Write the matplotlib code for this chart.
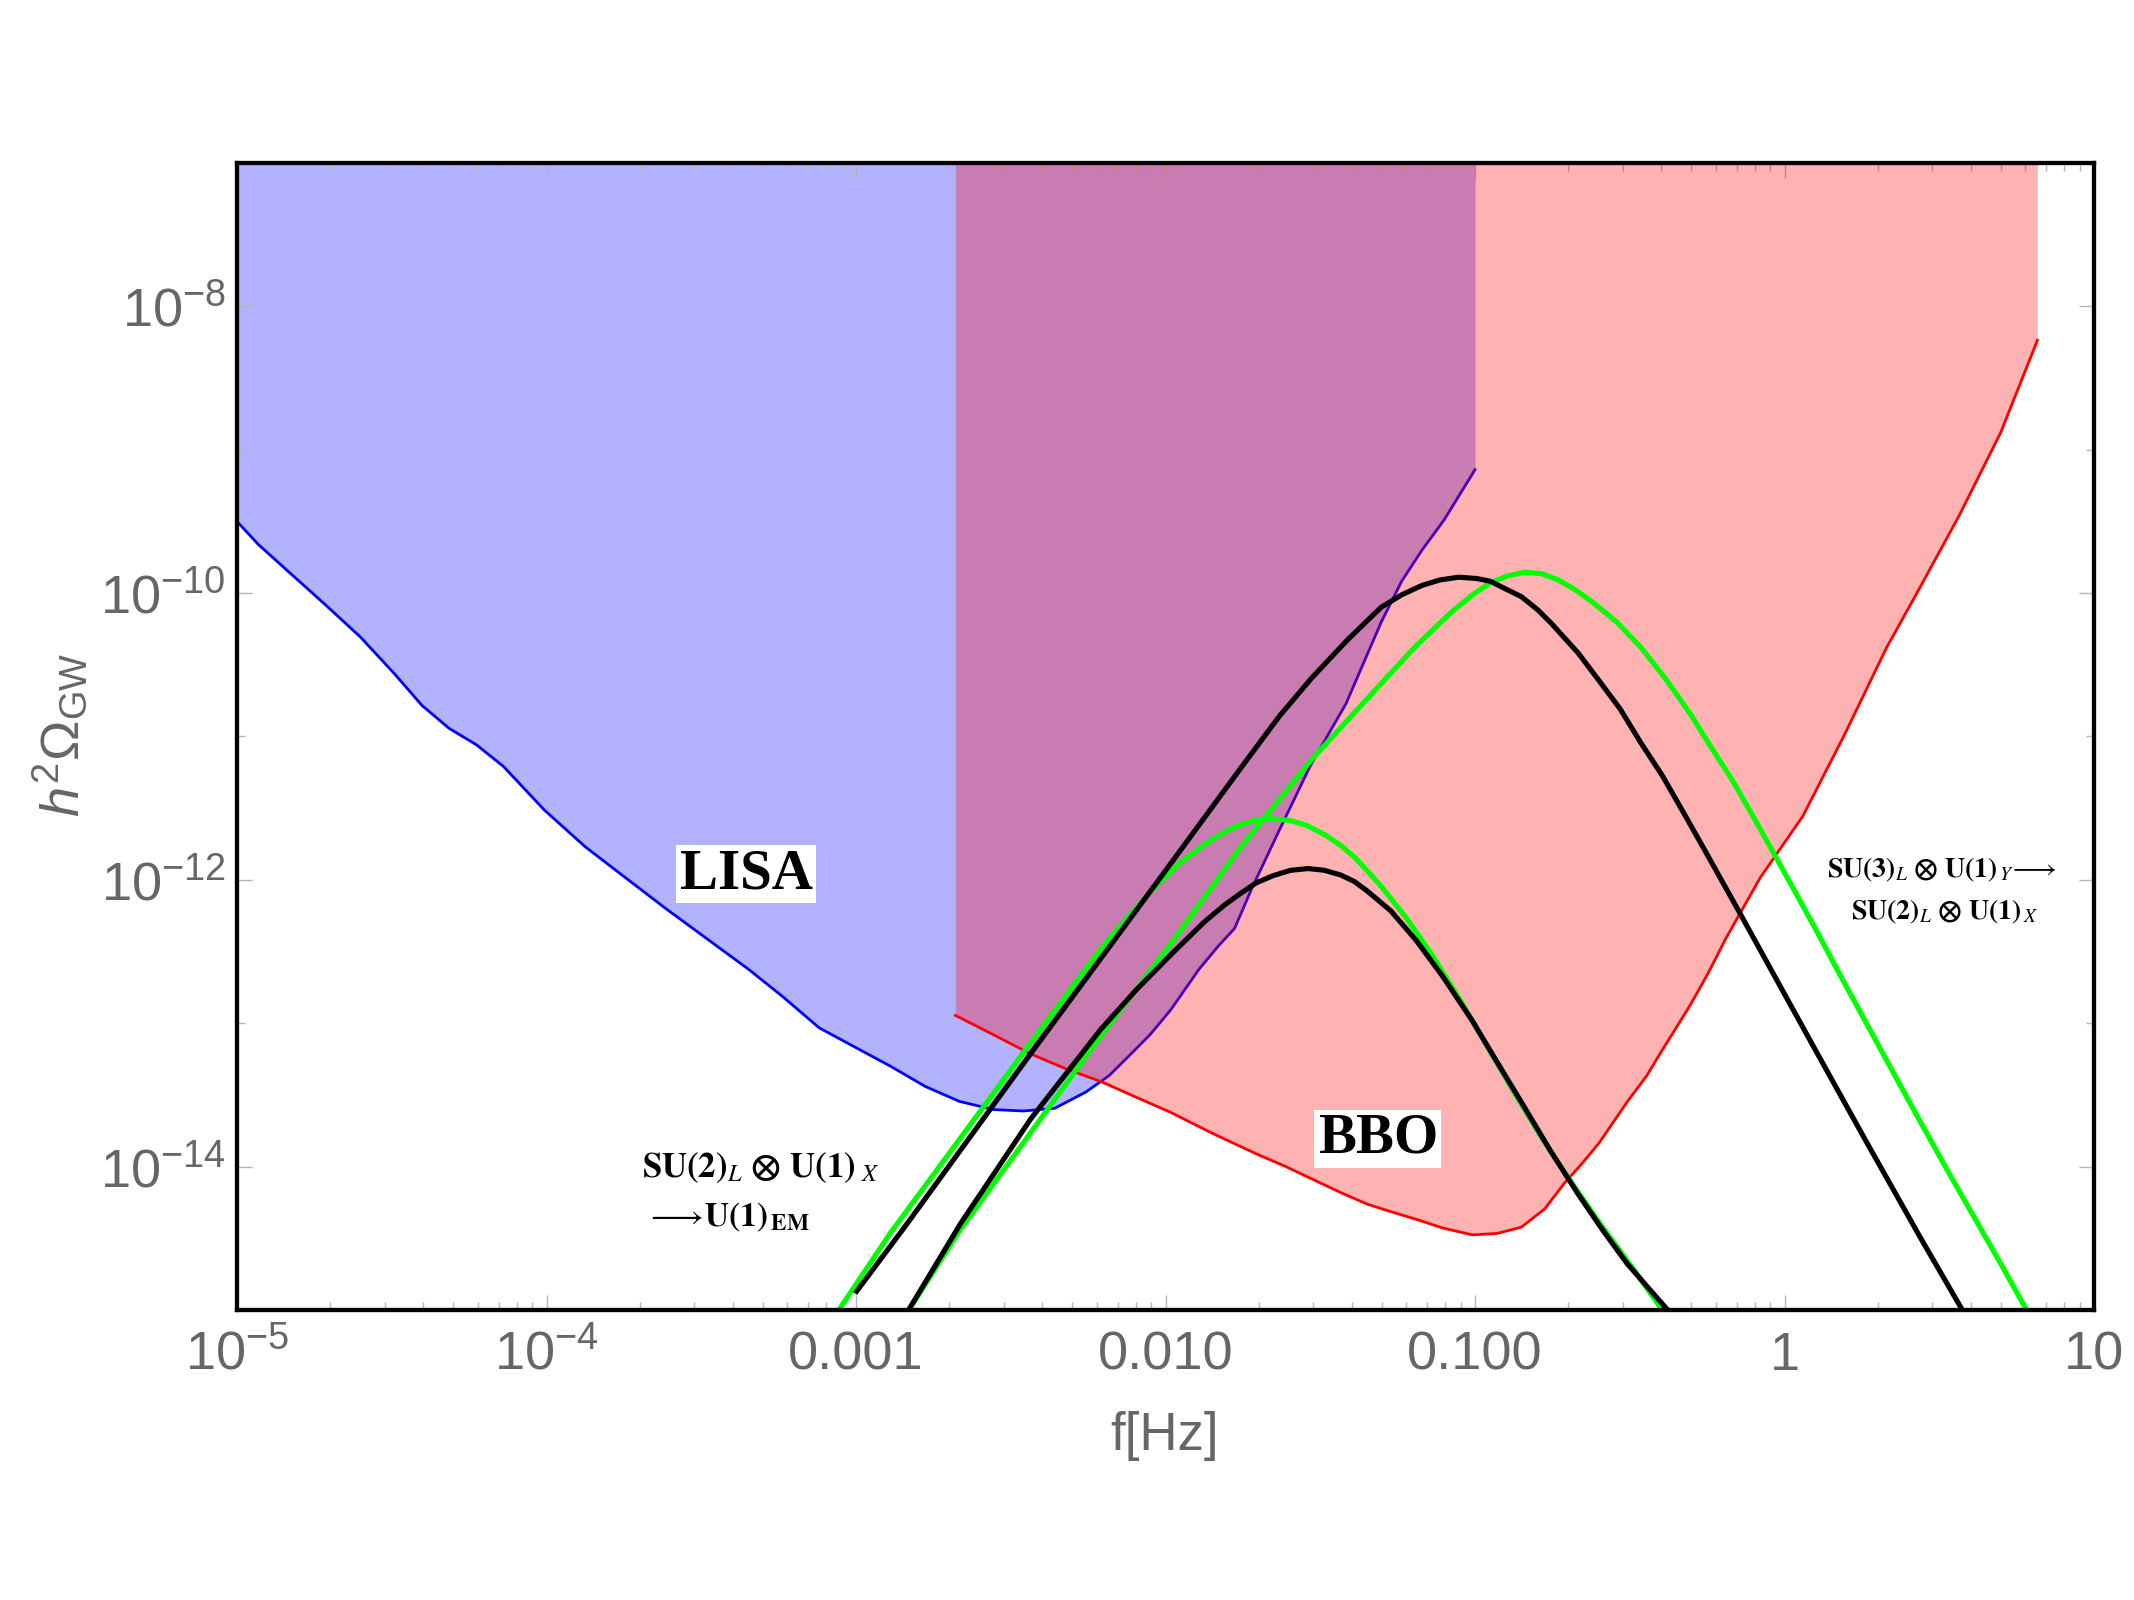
import numpy as np
import matplotlib
matplotlib.use("Agg")
import matplotlib.pyplot as plt
from matplotlib.ticker import FixedLocator, FixedFormatter, NullFormatter

plt.rcParams['font.family'] = ['Liberation Sans', 'DejaVu Sans']
plt.rcParams['mathtext.fontset'] = 'custom'
plt.rcParams['mathtext.rm'] = 'Liberation Sans'
plt.rcParams['mathtext.it'] = 'Liberation Sans:italic'
plt.rcParams['mathtext.bf'] = 'Liberation Sans:bold'
plt.rcParams['mathtext.sf'] = 'Liberation Sans'

# ---------------- data (log10 values) ----------------
lisa_logf = [-5.000, -4.931, -4.843, -4.711, -4.601, -4.491, -4.403, -4.315, -4.227, -4.139,
             -4.007, -3.875, -3.743, -3.611, -3.479, -3.347, -3.237, -3.119, -2.996, -2.890,
             -2.776, -2.666, -2.556, -2.459, -2.358, -2.257, -2.182, -2.120, -2.050, -1.984,
             -1.892, -1.830, -1.777, -1.720, -1.641, -1.531, -1.417, -1.303, -1.237, -1.171,
             -1.100, -1.000]
lisa_logO = [-9.500, -9.661, -9.832, -10.088, -10.307, -10.563, -10.782, -10.943, -11.057, -11.209,
             -11.513, -11.769, -11.988, -12.206, -12.415, -12.624, -12.814, -13.032, -13.175, -13.298,
             -13.441, -13.545, -13.602, -13.612, -13.593, -13.479, -13.365, -13.232, -13.080, -12.909,
             -12.624, -12.463, -12.339, -12.054, -11.693, -11.199, -10.772, -10.202, -9.917, -9.699,
             -9.490, -9.139]

bbo_logf = [-2.679, -2.556, -2.437, -2.323, -2.208, -2.094, -1.984, -1.852, -1.712, -1.610,
            -1.529, -1.434, -1.348, -1.272, -1.189, -1.105, -1.008, -0.929, -0.850, -0.775,
            -0.713, -0.656, -0.599, -0.509, -0.445, -0.397, -0.304, -0.247, -0.190, -0.078,
            0.059, 0.193, 0.329, 0.439, 0.566, 0.698, 0.817]
bbo_logO = [-12.945, -13.080, -13.213, -13.317, -13.407, -13.517, -13.621, -13.764, -13.906, -14.001,
            -14.084, -14.181, -14.262, -14.314, -14.368, -14.428, -14.476, -14.466, -14.422, -14.295,
            -14.120, -13.982, -13.835, -13.550, -13.365, -13.194, -12.871, -12.652, -12.410, -11.983,
            -11.556, -10.991, -10.383, -9.955, -9.452, -8.882, -8.237]

# SU(3)_L x U(1)_Y -> SU(2)_L x U(1)_X  (large peaks)
black_big_logf = [-3.003, -2.842, -2.663, -2.436, -2.209, -1.982, -1.756, -1.632, -1.529, -1.412,
                  -1.303, -1.237, -1.171, -1.113, -1.053, -0.995, -0.951, -0.898, -0.850, -0.797,
                  -0.753, -0.667, -0.599, -0.531, -0.463, -0.395, -0.326, -0.259, -0.146, -0.032,
                  0.104, 0.263, 0.439, 0.588]
black_big_logO = [-14.884, -14.419, -13.887, -13.213, -12.548, -11.883, -11.218, -10.858, -10.595, -10.326,
                  -10.098, -10.012, -9.946, -9.908, -9.889, -9.898, -9.917, -9.974, -10.025, -10.117,
                  -10.212, -10.417, -10.611, -10.808, -11.048, -11.272, -11.532, -11.788, -12.225, -12.671,
                  -13.203, -13.821, -14.495, -15.050]
green_big_logf = [-2.844, -2.663, -2.436, -2.209, -1.982, -1.756, -1.529, -1.412, -1.303, -1.193,
                  -1.076, -1.008, -0.951, -0.894, -0.837, -0.784, -0.731, -0.678, -0.622, -0.542,
                  -0.463, -0.383, -0.304, -0.234, -0.168, -0.098, -0.032, 0.039, 0.104, 0.179,
                  0.263, 0.347, 0.439, 0.522, 0.610, 0.698, 0.795]
green_big_logO = [-15.050, -14.440, -13.764, -13.087, -12.444, -11.769, -11.164, -10.886, -10.630, -10.373,
                  -10.132, -10.012, -9.927, -9.879, -9.854, -9.865, -9.908, -9.974, -10.060, -10.202,
                  -10.381, -10.601, -10.844, -11.086, -11.307, -11.570, -11.826, -12.102, -12.358, -12.662,
                  -12.994, -13.327, -13.688, -14.010, -14.343, -14.675, -15.050]

# SU(2)_L x U(1)_X -> U(1)_EM  (small peaks)
black_small_logf = [-2.844, -2.663, -2.436, -2.209, -2.094, -1.982, -1.874, -1.808, -1.756, -1.707,
                    -1.654, -1.597, -1.540, -1.487, -1.434, -1.390, -1.348, -1.272, -1.189, -1.105,
                    -1.008, -0.929, -0.849, -0.757, -0.667, -0.586, -0.509, -0.436, -0.357]
black_small_logO = [-15.050, -14.400, -13.669, -13.042, -12.766, -12.520, -12.292, -12.173, -12.092, -12.021,
                    -11.972, -11.934, -11.921, -11.933, -11.966, -12.011, -12.078, -12.216, -12.425, -12.671,
                    -12.985, -13.270, -13.555, -13.887, -14.191, -14.447, -14.675, -14.856, -15.050]
green_small_logf = [-3.071, -2.890, -2.663, -2.436, -2.209, -2.116, -2.028, -1.949, -1.869, -1.808,
                    -1.764, -1.712, -1.654, -1.597, -1.544, -1.484, -1.434, -1.390, -1.347, -1.303,
                    -1.223, -1.143, -1.052, -0.962, -0.872, -0.781, -0.687, -0.599, -0.489, -0.379]
green_small_logO = [-15.050, -14.466, -13.802, -13.137, -12.482, -12.244, -12.035, -11.874, -11.746, -11.665,
                    -11.620, -11.586, -11.574, -11.586, -11.620, -11.687, -11.760, -11.840, -11.940, -12.045,
                    -12.263, -12.510, -12.823, -13.156, -13.488, -13.811, -14.115, -14.390, -14.713, -15.050]

x_major = [1e-5, 1e-4, 1e-3, 1e-2, 1e-1, 1, 10]
x_labels = [r'$10^{-5}$', r'$10^{-4}$', '0.001', '0.010', '0.100', '1', '10']
y_major = [1e-14, 1e-12, 1e-10, 1e-8]
y_labels = [r'$10^{-14}$', r'$10^{-12}$', r'$10^{-10}$', r'$10^{-8}$']
y_minor = [1e-15, 1e-13, 1e-11, 1e-9, 1e-7]

# ---------------- figure ----------------
fig = plt.figure(figsize=(21.34, 16), dpi=100)
ax = fig.add_axes([0.11106, 0.18125, 0.87020, 0.71688])
ax.set_xscale('log')
ax.set_yscale('log')
ax.set_xlim(1e-5, 10)
ax.set_ylim(1e-15, 1e-7)

top = 1e-7
lf = 10 ** np.array(lisa_logf); lo = 10 ** np.array(lisa_logO)
bf = 10 ** np.array(bbo_logf); bo = 10 ** np.array(bbo_logO)

ax.fill_between(lf, lo, top, color='blue', alpha=0.3, linewidth=0, zorder=1)
ax.plot(lf, lo, color='blue', lw=2.0, zorder=2, solid_joinstyle='round')
ax.fill_between(bf, bo, top, color='red', alpha=0.3, linewidth=0, zorder=3)
ax.plot(bf, bo, color='red', lw=2.0, zorder=4, solid_joinstyle='round')

green = '#00ff00'
kw = dict(lw=3.7, solid_joinstyle='round', solid_capstyle='butt')
ax.plot(10 ** np.array(green_big_logf), 10 ** np.array(green_big_logO), color=green, zorder=5, **kw)
ax.plot(10 ** np.array(green_small_logf), 10 ** np.array(green_small_logO), color=green, zorder=5, **kw)
ax.plot(10 ** np.array(black_big_logf), 10 ** np.array(black_big_logO), color='black', zorder=6, **kw)
ax.plot(10 ** np.array(black_small_logf), 10 ** np.array(black_small_logO), color='black', zorder=6, **kw)

# ticks
minor_x = [m * 10.0 ** e for e in range(-5, 1) for m in range(2, 10)]
ax.xaxis.set_major_locator(FixedLocator(x_major))
ax.xaxis.set_major_formatter(FixedFormatter(x_labels))
ax.xaxis.set_minor_locator(FixedLocator(minor_x))
ax.xaxis.set_minor_formatter(NullFormatter())
ax.yaxis.set_major_locator(FixedLocator(y_major))
ax.yaxis.set_major_formatter(FixedFormatter(y_labels))
ax.yaxis.set_minor_locator(FixedLocator(y_minor))
ax.yaxis.set_minor_formatter(NullFormatter())

tick_col = '#b5b5b5'
ax.tick_params(which='both', direction='in', top=True, right=True, color=tick_col,
               width=1.0, labelcolor='#666666', labelsize=39)
ax.tick_params(which='major', length=11)
ax.tick_params(which='minor', length=6)
ax.tick_params(axis='x', which='major', pad=43)
ax.tick_params(axis='y', which='major', pad=8)
for t in ax.xaxis.get_major_ticks():
    t.label1.set_verticalalignment('baseline')

for s in ax.spines.values():
    s.set_linewidth(3.1)
    s.set_color('black')
    s.set_zorder(10)

# axis labels
fig.text(0.5455, 0.1025, 'f[Hz]', color='#666666', fontsize=38, ha='center', va='center')
fig.text(0.0286, 0.5406, r'$h^2\Omega_{\mathrm{GW}}$', color='#666666', fontsize=39,
         rotation=90, ha='center', va='center')

# region labels
box = dict(boxstyle='square,pad=0.06', facecolor='white', edgecolor='none')
ax.text(0.2741, 0.3801, 'LISA', transform=ax.transAxes, family='Liberation Serif',
        weight='bold', fontsize=41, ha='center', va='center', bbox=box, zorder=8)
ax.text(0.6144, 0.1491, 'BBO', transform=ax.transAxes, family='Liberation Serif',
        weight='bold', fontsize=41, ha='center', va='center', bbox=box, zorder=8)

# model annotations
ax.text(0.2180, 0.1238, r'$\mathbf{SU(2)}_{L}\ \mathbf{\otimes}\ \mathbf{U(1)}_{\ X}$',
        transform=ax.transAxes, math_fontfamily='stix', fontsize=25, ha='left', va='center', zorder=8)
ax.text(0.2200, 0.0811, r'$\longrightarrow\!\mathbf{U(1)}_{\,\mathbf{EM}}$',
        transform=ax.transAxes, math_fontfamily='stix', fontsize=24, ha='left', va='center', zorder=8)
ax.text(0.9182, 0.3836, r'$\mathbf{SU(3)}_{L}\ \mathbf{\otimes}\ \mathbf{U(1)}_{\,Y}\!\longrightarrow$',
        transform=ax.transAxes, math_fontfamily='stix', fontsize=20, ha='center', va='center', zorder=8)
ax.text(0.9198, 0.3470, r'$\mathbf{SU(2)}_{L}\ \mathbf{\otimes}\ \mathbf{U(1)}_{\,X}$',
        transform=ax.transAxes, math_fontfamily='stix', fontsize=20, ha='center', va='center', zorder=8)

fig.savefig('out.png', dpi=100, facecolor='white')
